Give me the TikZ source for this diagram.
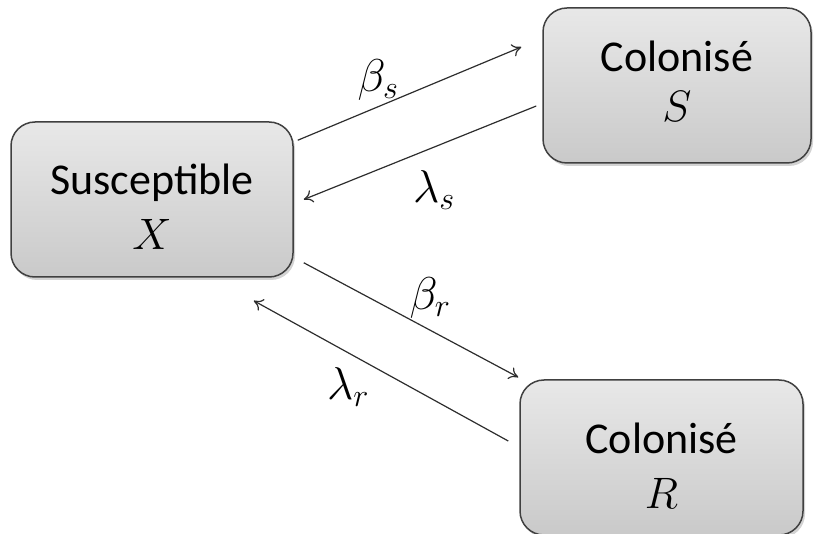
\RequirePackage{fix-cm}
\documentclass[tikz,border=0pt]{standalone}
\usepackage{fontspec}
\setmainfont{Carlito}
\usetikzlibrary{arrows.meta,shadows}
\definecolor{boxline}{RGB}{64,64,64}
\definecolor{arrowgray}{RGB}{45,45,45}
\newcommand{\lowstrut}{\rule{0pt}{46pt}}

\begin{document}
\begin{tikzpicture}[x=1pt, y=1pt,
  state/.style={draw=boxline, line width=1.5pt, rounded corners=24pt,
                top color=black!9, bottom color=black!21,
                minimum width=282pt, minimum height=155pt,
                font=\fontsize{44}{55}\selectfont, align=center,
                drop shadow={opacity=0.35, shadow xshift=2pt, shadow yshift=-3pt}},
  arrow/.style={-{To[length=9pt,width=13pt]}, line width=1.2pt, color=arrowgray},
  rate/.style={font=\fontsize{46}{54}\selectfont}
]
  \useasboundingbox (0,0) rectangle (816,533);

  \node[state] (sus) at (152,333.5) {\lowstrut Susceptible\\$X$};
  \node[state, minimum width=268pt, font=\fontsize{44}{50}\selectfont] (cols) at (677,447.5)
    {Colonisé\\$S$\rule[-8pt]{0pt}{8pt}};
  \node[state, minimum width=283pt] (colr) at (661.5,75.5) {\lowstrut Colonisé\\$R$};

  \node[rate] (bs) at (378,453) {$\beta_s$};
  \node[rate] (ls) at (434,343) {$\lambda_s$};
  \node[rate] (br) at (430,235) {$\beta_r$};
  \node[rate] (lr) at (348,146) {$\lambda_r$};

  \draw[arrow] ([xshift=4pt,yshift=-19pt]sus.north east) -- ([xshift=-21pt,yshift=38.5pt]cols.west);
  \draw[arrow] ([xshift=-6pt,yshift=-20.5pt]cols.west) -- ([xshift=10pt]sus.east);
  \draw[arrow] ([xshift=10pt,yshift=15pt]sus.south east) -- ([xshift=-1pt,yshift=2pt]colr.north west);
  \draw[arrow] ([xshift=-11pt,yshift=16.5pt]colr.west) -- ([xshift=-40pt,yshift=-23pt]sus.south east);
\end{tikzpicture}
\end{document}
